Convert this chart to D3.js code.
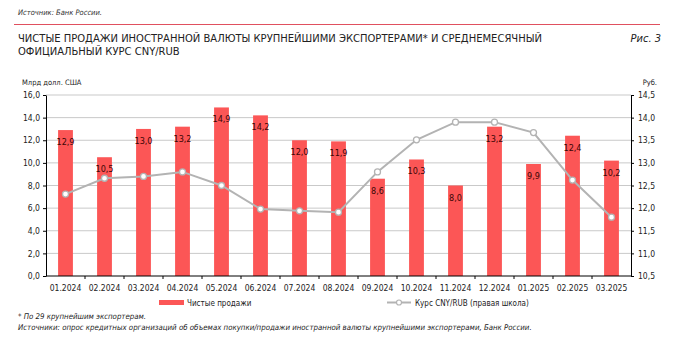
<!DOCTYPE html>
<html>
<head>
<meta charset="utf-8">
<script src="https://cdn.jsdelivr.net/npm/d3@7/dist/d3.min.js"></script>
<style>
  html, body { margin: 0; padding: 0; background: #fff; }
  svg { display: block; font-family: "Liberation Sans Narrow", "DejaVu Sans Condensed", Roboto, "Liberation Sans", sans-serif; }
</style>
</head>
<body>
<svg id="chart" width="674" height="341"></svg>
<script>
// Monthly categories
const months = ["01.2024","02.2024","03.2024","04.2024","05.2024","06.2024","07.2024","08.2024",
                "09.2024","10.2024","11.2024","12.2024","01.2025","02.2025","03.2025"];
// Net FX sales by the largest exporters, bn USD
const netSales = [12.9, 10.5, 13.0, 13.2, 14.9, 14.2, 12.0, 11.9, 8.6, 10.3, 8.0, 13.2, 9.9, 12.4, 10.2];
// Average monthly official CNY/RUB rate
const cnyRub = [12.31, 12.66, 12.70, 12.80, 12.50, 11.98, 11.94, 11.91, 12.80, 13.51, 13.90, 13.90, 13.67, 12.62, 11.80];
// Axis ticks
const leftTicks = [0, 2, 4, 6, 8, 10, 12, 14, 16];
const rightTicks = [10.5, 11, 11.5, 12, 12.5, 13, 13.5, 14, 14.5];

const fmt1 = v => d3.format(".1f")(v).replace(".", ",");

const svg = d3.select("#chart");
const plotL = 46, plotR = 631, plotT = 95, plotB = 276;

const x = d3.scaleBand().domain(months).range([plotL, plotR]).paddingInner(0.62).paddingOuter(0.31);
const xb = d3.scaleBand().domain(months).range([plotL, plotR]);
const yL = d3.scaleLinear().domain([0, 16]).range([plotB, plotT]);
const yR = d3.scaleLinear().domain([10.5, 14.5]).range([plotB, plotT]);

// Header
svg.append("text").attr("x", 18).attr("y", 15).attr("font-size", 7.5).attr("font-style", "italic")
  .attr("fill", "#333").text("Источник: Банк России.");
svg.append("line").attr("x1", 14).attr("x2", 660).attr("y1", 24.5).attr("y2", 24.5)
  .attr("stroke", "#e0505f").attr("stroke-width", 1);
const t1 = svg.append("text").attr("x", 18).attr("y", 42).attr("font-size", 11).attr("fill", "#222")
  .text("ЧИСТЫЕ ПРОДАЖИ ИНОСТРАННОЙ ВАЛЮТЫ КРУПНЕЙШИМИ ЭКСПОРТЕРАМИ* И СРЕДНЕМЕСЯЧНЫЙ");
const t2 = svg.append("text").attr("x", 18).attr("y", 55).attr("font-size", 11).attr("fill", "#222")
  .text("ОФИЦИАЛЬНЫЙ КУРС CNY/RUB");
// Both title lines share one horizontal squeeze so the wide first line fits its width
const squeeze = 524 / t1.node().getComputedTextLength();
t1.attr("textLength", 524).attr("lengthAdjust", "spacingAndGlyphs");
t2.attr("textLength", t2.node().getComputedTextLength() * squeeze).attr("lengthAdjust", "spacingAndGlyphs");
svg.append("text").attr("x", 661).attr("y", 42).attr("font-size", 11).attr("font-style", "italic")
  .attr("text-anchor", "end").attr("fill", "#222").text("Рис. 3");
svg.append("text").attr("x", 22).attr("y", 85).attr("font-size", 7.5).attr("fill", "#222").text("Млрд долл. США");
svg.append("text").attr("x", 657).attr("y", 85).attr("font-size", 7.5).attr("text-anchor", "end").attr("fill", "#222").text("Руб.");

// Gridlines
svg.append("g").selectAll("line").data(leftTicks.filter(d => d > 0)).join("line")
  .attr("x1", plotL).attr("x2", plotR)
  .attr("y1", d => yL(d)).attr("y2", d => yL(d))
  .attr("stroke", "#c9c9c9").attr("stroke-width", 1);

// Bars
svg.append("g").selectAll("rect").data(netSales).join("rect")
  .attr("x", (d, i) => x(months[i])).attr("width", x.bandwidth())
  .attr("y", d => yL(d)).attr("height", d => yL(0) - yL(d))
  .attr("fill", "#fc5656");

// Bar value labels
svg.append("g").selectAll("text").data(netSales).join("text")
  .attr("x", (d, i) => x(months[i]) + x.bandwidth() / 2)
  .attr("y", d => yL(d) + 15)
  .attr("text-anchor", "middle").attr("font-size", 9).attr("fill", "#3a0606")
  .text(d => fmt1(d));

// Rate line
const line = d3.line().x((d, i) => xb(months[i]) + xb.bandwidth() / 2).y(d => yR(d));
svg.append("path").datum(cnyRub).attr("d", line)
  .attr("fill", "none").attr("stroke", "#b3b3b3").attr("stroke-width", 2);
svg.append("g").selectAll("circle").data(cnyRub).join("circle")
  .attr("cx", (d, i) => xb(months[i]) + xb.bandwidth() / 2).attr("cy", d => yR(d))
  .attr("r", 3).attr("fill", "#fff").attr("stroke", "#b3b3b3").attr("stroke-width", 1.3);

// Axes
const axisStyle = g => {
  g.select(".domain").attr("stroke", "#000");
  g.selectAll(".tick line").attr("stroke", "#000");
  g.selectAll(".tick text").attr("fill", "#222").attr("font-size", 8.5)
    .attr("font-family", "\"Liberation Sans Narrow\", \"DejaVu Sans Condensed\", Roboto, sans-serif");
};
svg.append("g").attr("transform", `translate(${plotL},0)`)
  .call(d3.axisLeft(yL).tickValues(leftTicks).tickFormat(fmt1).tickSize(3).tickSizeOuter(0).tickPadding(3))
  .call(axisStyle);
svg.append("g").attr("transform", `translate(${plotR},0)`)
  .call(d3.axisRight(yR).tickValues(rightTicks).tickFormat(fmt1).tickSize(3).tickSizeOuter(0).tickPadding(4))
  .call(axisStyle);

// Category axis: ticks between months
const gx = svg.append("g").attr("transform", `translate(0,${plotB})`);
gx.append("line").attr("x1", plotL).attr("x2", plotR).attr("stroke", "#000");
gx.selectAll("line.sep").data(months.slice(1)).join("line").attr("class", "sep")
  .attr("x1", d => xb(d)).attr("x2", d => xb(d)).attr("y1", 0).attr("y2", 3).attr("stroke", "#000");
gx.selectAll("text").data(months).join("text")
  .attr("x", d => xb(d) + xb.bandwidth() / 2).attr("y", 15)
  .attr("text-anchor", "middle").attr("font-size", 8.5).attr("fill", "#222").text(d => d);

// Legend
const lg = svg.append("g");
lg.append("rect").attr("x", 159).attr("y", 300).attr("width", 25).attr("height", 5).attr("fill", "#fc5656");
lg.append("text").attr("x", 187).attr("y", 306).attr("font-size", 8).attr("fill", "#222").text("Чистые продажи");
lg.append("line").attr("x1", 387).attr("x2", 411).attr("y1", 302.5).attr("y2", 302.5).attr("stroke", "#b3b3b3").attr("stroke-width", 2);
lg.append("circle").attr("cx", 399).attr("cy", 302.5).attr("r", 2.5).attr("fill", "#fff").attr("stroke", "#b3b3b3").attr("stroke-width", 1.2);
lg.append("text").attr("x", 415).attr("y", 306).attr("font-size", 8).attr("fill", "#222").text("Курс CNY/RUB (правая школа)");

// Footnotes
svg.append("text").attr("x", 18).attr("y", 319).attr("font-size", 7.8).attr("font-style", "italic").attr("fill", "#222")
  .text("* По 29 крупнейшим экспортерам.");
svg.append("text").attr("x", 18).attr("y", 330).attr("font-size", 7.8).attr("font-style", "italic").attr("fill", "#222")
  .text("Источники: опрос кредитных организаций об объемах покупки/продажи иностранной валюты крупнейшими экспортерами, Банк России.");
</script>
</body>
</html>
